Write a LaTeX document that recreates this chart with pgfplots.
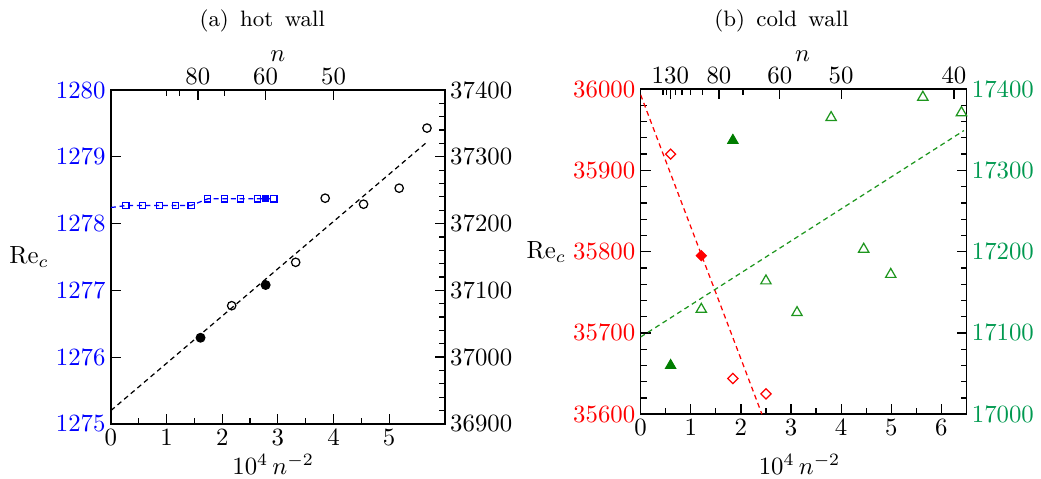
\documentclass[border=0pt]{standalone}
\usepackage{pgfplots}
\pgfplotsset{compat=1.18}

\definecolor{recblue}{RGB}{0,0,255}
\definecolor{recred}{RGB}{255,0,0}
\definecolor{axgreen}{RGB}{0,153,80}
\definecolor{trigreen}{RGB}{30,150,30}
\definecolor{darkgreen}{RGB}{0,125,0}

\pgfplotsset{
  panel/.style={
    scale only axis,
    tick align=inside,
    axis line style={line width=0.6pt,-},
    every tick/.style={black,line width=0.5pt},
    major tick length=4pt,
    minor tick length=2.4pt,
    scaled ticks=false,
    every tick label/.append style={inner sep=2pt},
    /pgf/number format/1000 sep={},
  },
  fitline/.style={line width=0.5pt,dash pattern=on 2pt off 1.5pt},
}

\begin{document}
\begin{tikzpicture}
\path[use as bounding box] (0,0) rectangle (420pt,193.2pt);

% ---------------- (a) hot wall ----------------
\begin{axis}[panel,
  at={(44.76pt,22.18pt)}, anchor=south west,
  width=134.7pt, height=134.7pt,
  xmin=0, xmax=6, ymin=1275, ymax=1280,
  xtick={0,...,5}, minor x tick num=1,
  ytick={1275,...,1280}, minor y tick num=4,
  xtick pos=left, ytick pos=left,
  yticklabel style={text=recblue},
]
\addplot[recblue,fitline] coordinates {
  (0,1278.24) (0.27,1278.27) (0.57,1278.27) (0.87,1278.27) (1.16,1278.27)
  (1.44,1278.27) (1.74,1278.37) (2.04,1278.37) (2.33,1278.37) (2.63,1278.37)
  (2.93,1278.37)};
\addplot[recblue,only marks,mark=square,mark size=1.25pt,mark options={solid,line width=0.5pt}] coordinates {
  (0.27,1278.27) (0.57,1278.27) (0.87,1278.27) (1.16,1278.27) (1.44,1278.27)
  (1.74,1278.37) (2.04,1278.37) (2.33,1278.37) (2.63,1278.37) (2.93,1278.37)};
\addplot[recblue,only marks,mark=square*,mark size=1.25pt] coordinates {(2.78,1278.38)};
\end{axis}

\begin{axis}[panel,
  at={(44.76pt,22.18pt)}, anchor=south west,
  width=134.7pt, height=134.7pt,
  xmin=0, xmax=6, ymin=36900, ymax=37400,
  axis x line*=top, axis y line*=right,
  xtick={1.5625,2.7778,4}, xticklabels={80,60,50},
  minor xtick={1,1.2346,2.0408},
  ytick={36900,37000,...,37400}, minor y tick num=4,
]
\addplot[black,fitline] coordinates {(0,36920) (5.68,37322)};
\addplot[black,only marks,mark=o,mark size=1.7pt,mark options={line width=0.5pt}] coordinates {
  (2.17,37077) (3.32,37142) (3.85,37238) (4.54,37229) (5.18,37253) (5.68,37343)};
\addplot[black,only marks,mark=*,mark size=1.8pt] coordinates {(1.61,37029) (2.78,37108)};
\end{axis}

% ---------------- (b) cold wall ----------------
\begin{axis}[panel,
  at={(258.47pt,26.09pt)}, anchor=south west,
  width=131.45pt, height=131.17pt,
  xmin=0, xmax=6.5, ymin=35600, ymax=36000,
  xtick={0,...,6}, minor x tick num=1,
  ytick={35600,35700,...,36000}, minor y tick num=4,
  xtick pos=left, ytick pos=left,
  yticklabel style={text=recred},
]
\addplot[recred,fitline] coordinates {(0,35993) (2.42,35600)};
\addplot[recred,only marks,mark=square,mark size=1.45pt,mark options={rotate=45,line width=0.5pt}] coordinates {
  (0.598,35920) (1.84,35644) (2.50,35625)};
\addplot[recred,only marks,mark=square*,mark size=1.45pt,mark options={rotate=45}] coordinates {(1.21,35795)};
\end{axis}

\begin{axis}[panel,
  at={(258.47pt,26.09pt)}, anchor=south west,
  width=131.45pt, height=131.17pt,
  xmin=0, xmax=6.5, ymin=17000, ymax=17400,
  axis x line*=top, axis y line*=right,
  xtick={0.5917,1.5625,2.7778,4,6.25}, xticklabels={130,80,60,50,40},
  minor xtick={0.4444,0.5102,0.6944,0.8264,1,1.2346,2.0408},
  ytick={17000,17100,...,17400}, minor y tick num=4,
  yticklabel style={text=axgreen},
]
\addplot[trigreen,fitline] coordinates {(0,17095) (6.45,17349)};
\addplot[trigreen,only marks,mark=triangle,mark size=2.4pt,mark options={line width=0.5pt}] coordinates {
  (1.21,17129) (2.50,17164) (3.12,17125) (3.80,17365) (4.45,17203)
  (4.99,17172) (5.63,17390) (6.40,17371)};
\addplot[darkgreen,only marks,mark=triangle*,mark size=2.4pt] coordinates {(0.598,17060) (1.84,17337)};
\end{axis}

% titles and axis names
\node at (105.8pt,184.8pt) {\small (a)\, hot\, wall};
\node at (315.3pt,184.8pt) {\small (b)\, cold\, wall};
\node at (112.1pt,170.6pt) {$n$};
\node at (323.8pt,170.6pt) {$n$};
\node at (110.2pt,5.8pt) {$10^4\,n^{-2}$};
\node at (322.6pt,5.8pt) {$10^4\,n^{-2}$};
\node at (11.7pt,89.6pt) {$\mathrm{Re}_c$};
\node at (220.4pt,91.6pt) {$\mathrm{Re}_c$};
\end{tikzpicture}
\end{document}
